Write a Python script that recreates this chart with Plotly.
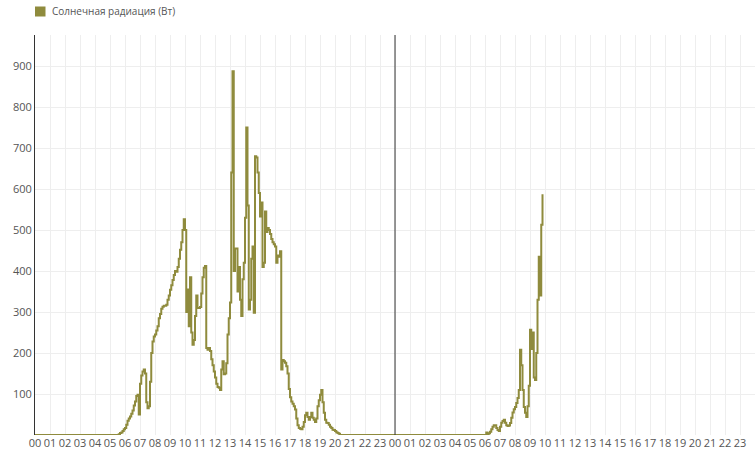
import pandas as pd
import plotly.graph_objects as go

SERIES_NAME = "Солнечная радиация (Вт)"
LINE_COLOR = "#8f8b3d"

# Hour tick labels (repeated for each of the two days)
HOUR_LABELS = ["00", "01", "02", "03", "04", "05", "06", "07", "08", "09", "10", "11",
               "12", "13", "14", "15", "16", "17", "18", "19", "20", "21", "22", "23"]

DAY1 = "2024-06-01"
DAY2 = "2024-06-02"

# Day 1: 5-minute readings from 05:30 to 20:20 (W); zero before and after
DAY1_START = "05:30"
DAY1_VALUES = [
    0, 2, 5, 6, 10, 14,                                   # 05:30-05:55
    17, 25, 35, 40, 45, 52, 60, 72, 82, 95, 98, 50,       # 06
    125, 145, 155, 160, 150, 80, 65, 70, 130, 200, 228, 240,   # 07
    245, 255, 265, 285, 295, 308, 313, 315, 315, 318, 330, 340,  # 08
    354, 365, 378, 390, 400, 398, 410, 430, 452, 470, 500, 526,  # 09
    500, 300, 355, 265, 385, 250, 220, 232, 290, 340, 310, 310,  # 10
    312, 345, 385, 408, 412, 212, 208, 212, 205, 185, 170, 155,  # 11
    140, 125, 117, 115, 110, 160, 180, 148, 150, 175, 245, 285,  # 12
    323, 640, 887, 400, 455, 455, 350, 410, 330, 290, 380, 420,  # 13
    530, 750, 560, 306, 330, 430, 460, 298, 680, 677, 640, 590,  # 14
    533, 567, 410, 420, 545, 495, 505, 500, 490, 478, 470, 465,  # 15
    460, 420, 438, 435, 448, 160, 183, 180, 176, 168, 150, 112,  # 16
    92, 82, 76, 70, 62, 40, 24, 17, 15, 14, 20, 32,              # 17
    48, 54, 44, 37, 44, 54, 42, 37, 32, 40, 70, 85,              # 18
    98, 110, 80, 54, 37, 30, 29, 25, 20, 17, 13, 12,             # 19
    10, 7, 5, 3, 0,                                              # 20:00-20:20
]

# Day 2: 5-minute readings from 06:00 to 09:50 (W)
DAY2_START = "06:00"
DAY2_VALUES = [
    0, 6, 2, 4, 8, 14, 20, 24, 24, 17, 12, 10,                   # 06
    20, 30, 34, 37, 30, 24, 22, 23, 29, 42, 55, 63,              # 07
    68, 78, 90, 110, 208, 170, 110, 68, 54, 44, 70, 120,         # 08
    257, 210, 250, 140, 134, 200, 330, 435, 340, 513, 587,       # 09:00-09:50
]

t1 = pd.date_range(f"{DAY1} {DAY1_START}", periods=len(DAY1_VALUES), freq="5min")
t2 = pd.date_range(f"{DAY2} {DAY2_START}", periods=len(DAY2_VALUES), freq="5min")

x = [pd.Timestamp(f"{DAY1} 00:00")] + list(t1) + list(t2)
y = [0] + DAY1_VALUES + DAY2_VALUES

hour_ticks = list(pd.date_range(f"{DAY1} 00:00", periods=48, freq="h"))
tick_text = HOUR_LABELS + HOUR_LABELS

W, H = 755, 451
ML, MR, MT, MB = 35, 0, 35, 16
PW, PH = W - ML - MR, H - MT - MB

fig = go.Figure()
fig.add_trace(go.Scatter(
    x=x, y=y, mode="lines", showlegend=False, name=SERIES_NAME,
    line=dict(color=LINE_COLOR, width=2, shape="hv"),
))

x_start = pd.Timestamp(f"{DAY1} 00:00")
x_end = x_start + pd.Timedelta(hours=48)
y_max = max(y) * 1.1

fig.update_layout(
    width=W, height=H,
    margin=dict(l=ML, r=MR, t=MT, b=MB, autoexpand=False),
    paper_bgcolor="white", plot_bgcolor="white",
    font=dict(family="Open Sans, Noto Sans, sans-serif", color="#555555", size=11),
    showlegend=False,
    xaxis=dict(
        type="date", range=[x_start, x_end], automargin=False,
        tickmode="array", tickvals=hour_ticks, ticktext=tick_text,
        showgrid=True, gridcolor="#eeeeee", gridwidth=1,
        zeroline=False, showline=False, ticks="",
        tickfont=dict(size=11, color="#555555"),
    ),
    yaxis=dict(
        range=[0, y_max], tickmode="array", automargin=False,
        tickvals=[100, 200, 300, 400, 500, 600, 700, 800, 900],
        showgrid=True, gridcolor="#eeeeee", gridwidth=1,
        zeroline=False, showline=True, linecolor="#333333", linewidth=1,
        ticks="", tickfont=dict(size=11, color="#555555"),
    ),
)

# day separator line
fig.add_shape(type="line", xref="x", yref="paper",
              x0=pd.Timestamp(f"{DAY2} 00:00"), x1=pd.Timestamp(f"{DAY2} 00:00"),
              y0=0, y1=1, line=dict(color="#333333", width=1), layer="above")

# legend: square swatch + label above the plot's top-left corner
sq_x0, sq_x1, sq_y0, sq_y1 = 35, 45.5, 6.5, 16.5   # pixel positions in the page
fig.add_shape(type="rect", xref="paper", yref="paper",
              x0=(sq_x0 - ML) / PW, x1=(sq_x1 - ML) / PW,
              y0=1 + (MT - sq_y1) / PH, y1=1 + (MT - sq_y0) / PH,
              fillcolor=LINE_COLOR, line=dict(width=0))
fig.add_annotation(text=SERIES_NAME, xref="paper", yref="paper",
                   x=(50 - ML) / PW, y=1 + (MT - 11.5) / PH,
                   xanchor="left", yanchor="middle", showarrow=False,
                   font=dict(size=10, color="#555555"))

fig.write_html(
    "out.html",
    config={"displayModeBar": False},
    post_script="document.body.style.margin='0';document.body.style.overflow='hidden';",
)
